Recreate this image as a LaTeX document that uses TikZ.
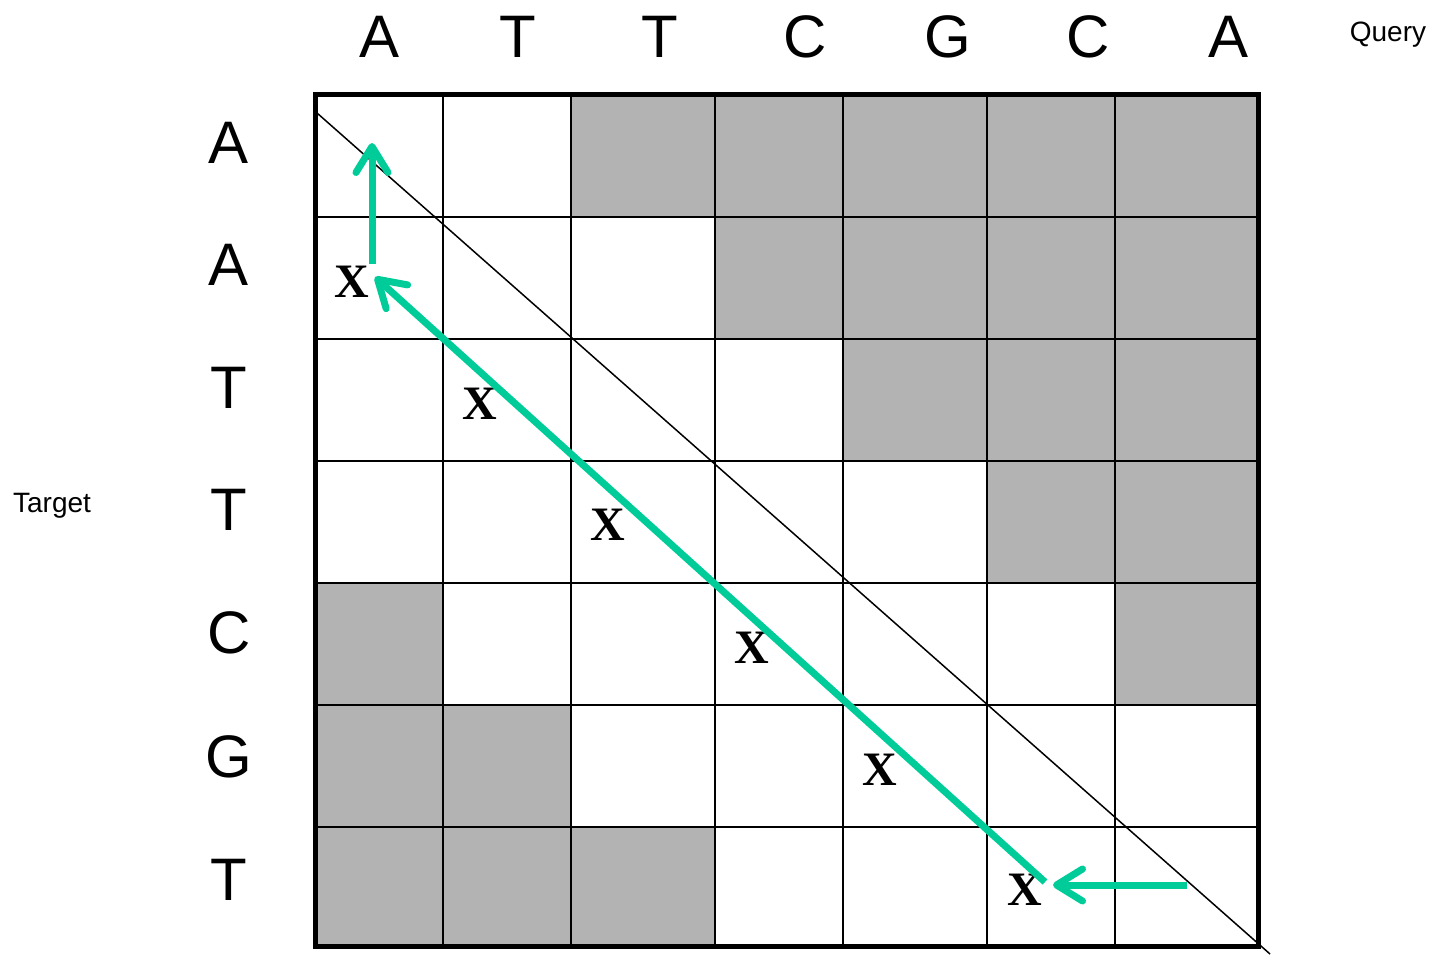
\documentclass[tikz,border=0pt]{standalone}
\usepackage{fontspec}
\setmainfont{Liberation Sans}
\newfontfamily\serifx{Liberation Serif}
\usetikzlibrary{arrows.meta}
\definecolor{cellgray}{RGB}{179,179,179}
\definecolor{pathgreen}{RGB}{0,204,153}
\tikzset{
  grayfill/.style={fill=cellgray,draw=none},
  gridline/.style={line width=2pt,black},
  seqletter/.style={font=\fontsize{60}{60}\selectfont,inner sep=0pt,anchor=center},
  axislabel/.style={font=\fontsize{28}{28}\selectfont,inner sep=0pt,anchor=center},
  mark x/.style={font=\serifx\bfseries\fontsize{48}{48}\selectfont,inner sep=0pt,anchor=center},
  greenarrow/.style={pathgreen,line width=7pt,-{Straight Barb[length=26pt,width=32pt,round]}}
}
\begin{document}
\begin{tikzpicture}[x=1pt,y=-1pt]
\useasboundingbox (0,0) rectangle (1432,955);
% gray cells
\fill[cellgray] (571,95) rectangle (1258,217);
\fill[cellgray] (715,217) rectangle (1258,339);
\fill[cellgray] (843,339) rectangle (1258,461);
\fill[cellgray] (987,461) rectangle (1258,583);
\fill[cellgray] (315,583) rectangle (443,705);
\fill[cellgray] (1115,583) rectangle (1258,705);
\fill[cellgray] (315,705) rectangle (571,827);
\fill[cellgray] (315,827) rectangle (715,946);
% grid lines
\foreach \x in {443,571,715,843,987,1115} \draw[gridline] (\x,95) -- (\x,946);
\foreach \y in {217,339,461,583,705,827} \draw[gridline] (315,\y) -- (1258,\y);
\draw[line width=5pt] (315,95) rectangle (1258,946);
% diagonal
\coordinate (d1) at (317,113);
\coordinate (d2) at (1270,954);
\draw[line width=1.5pt] (d1) -- (d2);
% query letters
\foreach \l/\x [count=\i] in {A/380,T/518,T/660,C/805,G/948,C/1088,A/1228}
  \node[seqletter] (q\i) at (\x,37) {\l};
\foreach \l/\y [count=\i] in {A/143,A/265,T/388,T/510,C/633,G/757,T/880}
  \node[seqletter] (t\i) at (229,\y) {\l};
\node[axislabel] (query) at (1388,35) {Query};
\node[axislabel] (target) at (52,506) {Target};
% X marks
\node[mark x] (x1) at (352,282) {X};
\node[mark x] (x2) at (480,404) {X};
\node[mark x] (x3) at (608,525) {X};
\node[mark x] (x4) at (752,648) {X};
\node[mark x] (x5) at (880,770) {X};
\node[mark x] (x6) at (1025,890) {X};
% arrows
\coordinate (a1s) at (1187,885);
\coordinate (a1e) at (1053,885);
\coordinate (a2s) at (1045,882);
\coordinate (a2e) at (375,277);
\coordinate (a3s) at (372,264);
\coordinate (a3e) at (372,143);
\draw[greenarrow] (a1s) -- (a1e);
\draw[greenarrow] (a2s) -- (a2e);
\draw[greenarrow] (a3s) -- (a3e);
\end{tikzpicture}
\end{document}
